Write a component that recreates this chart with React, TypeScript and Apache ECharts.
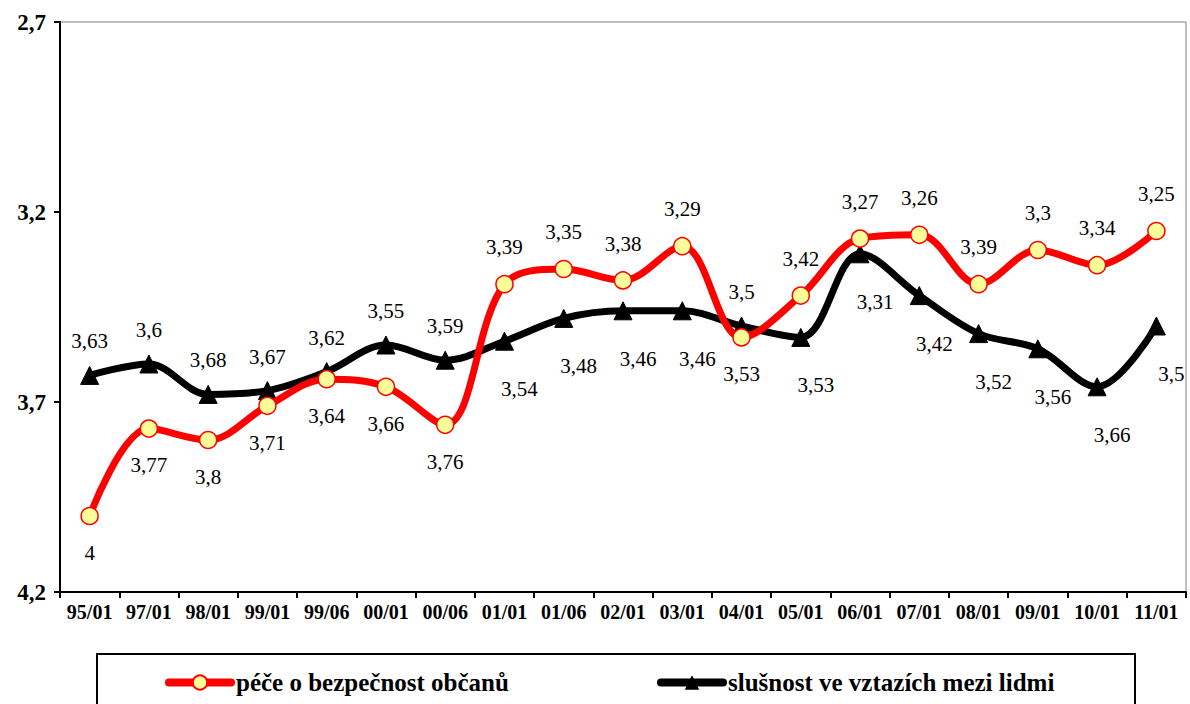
import React, { useEffect, useRef } from "react";
import * as echarts from "echarts";

const categories = ["95/01", "97/01", "98/01", "99/01", "99/06", "00/01", "00/06", "01/01", "01/06", "02/01", "03/01", "04/01", "05/01", "06/01", "07/01", "08/01", "09/01", "10/01", "11/01"];
const seriesNames = ["péče o bezpečnost občanů", "slušnost ve vztazích mezi lidmi"];
const bezpecnost = [4, 3.77, 3.8, 3.71, 3.64, 3.66, 3.76, 3.39, 3.35, 3.38, 3.29, 3.53, 3.42, 3.27, 3.26, 3.39, 3.3, 3.34, 3.25];
const slusnost = [3.63, 3.6, 3.68, 3.67, 3.62, 3.55, 3.59, 3.54, 3.48, 3.46, 3.46, 3.5, 3.53, 3.31, 3.42, 3.52, 3.56, 3.66, 3.5];
const yTicks = [2.7, 3.2, 3.7, 4.2];

const redLabelPos = ["bottom", "bottom", "bottom", "bottom", "bottom", "bottom", "bottom", "top", "top", "top", "top", "bottom", "top", "top", "top", "top", "top", "top", "top"];
const blackLabelPos = ["top", "top", "top", "top", "top", "top", "top", "bottom", "bottom", "bottom", "bottom", "top", "bottom", "bottom", "bottom", "bottom", "bottom", "bottom", "bottom"];

const FONT = "Times New Roman, Liberation Serif, DejaVu Serif, serif";
const fmt = (v: number) => String(v).replace(".", ",");

export default function App() {
  const ref = useRef<HTMLDivElement>(null);
  useEffect(() => {
    if (!ref.current) return;
    const chart = echarts.init(ref.current, null, { renderer: "svg" });
    const labelBase = { show: true, fontFamily: FONT, fontSize: 21, color: "#000", formatter: (p: any) => fmt(p.value) };
    const legendBase = {
      top: 665,
      itemWidth: 62,
      itemHeight: 18,
      itemGap: 5,
      lineStyle: { width: 8, cap: "round" },
      textStyle: { fontFamily: FONT, fontSize: 25, fontWeight: "bold", color: "#000" },
    };
    chart.setOption({
      animation: false,
      backgroundColor: "#fff",
      textStyle: { fontFamily: FONT },
      grid: { left: 60, right: 4, top: 22, bottom: 112, show: true, borderColor: "#808080", borderWidth: 1 },
      legend: [
        { ...legendBase, left: 160, data: [seriesNames[0]] },
        { ...legendBase, left: 652, data: [seriesNames[1]] },
      ],
      graphic: [
        { type: "rect", shape: { x: 97, y: 654, width: 1038, height: 70 }, style: { fill: "none", stroke: "#000", lineWidth: 2 } },
      ],
      xAxis: {
        type: "category",
        data: categories,
        boundaryGap: true,
        axisLine: { lineStyle: { color: "#000", width: 2 } },
        axisTick: { show: true, length: 6, lineStyle: { color: "#000", width: 2 } },
        axisLabel: { fontFamily: FONT, fontSize: 20, fontWeight: "bold", color: "#000", margin: 10, interval: 0 },
        splitLine: { show: false },
      },
      yAxis: {
        type: "value",
        inverse: true,
        min: yTicks[0],
        max: yTicks[yTicks.length - 1],
        interval: 0.5,
        axisLine: { show: true, lineStyle: { color: "#000", width: 2 } },
        axisTick: { show: true, length: 6, lineStyle: { color: "#000", width: 2 } },
        axisLabel: { fontFamily: FONT, fontSize: 23, fontWeight: "bold", color: "#000", margin: 14, formatter: (v: number) => fmt(Math.round(v * 10) / 10) },
        splitLine: { show: false },
      },
      series: [
        {
          name: seriesNames[0],
          type: "line",
          smooth: 0.35,
          z: 3,
          data: bezpecnost.map((v, i) => ({ value: v, label: { position: redLabelPos[i] } })),
          lineStyle: { color: "#ff0000", width: 7, cap: "round", join: "round" },
          itemStyle: { color: "#ffff99", borderColor: "#ff0000", borderWidth: 1.5 },
          symbol: "circle",
          symbolSize: 17,
          label: { ...labelBase, distance: 17 },
        },
        {
          name: seriesNames[1],
          type: "line",
          smooth: 0.35,
          z: 2,
          data: slusnost.map((v, i) => ({ value: v, label: { position: blackLabelPos[i], distance: blackLabelPos[i] === "bottom" ? 28 : 14, offset: blackLabelPos[i] === "bottom" ? [15, 0] : [0, 0] } })),
          lineStyle: { color: "#000", width: 7, cap: "round", join: "round" },
          itemStyle: { color: "#000", borderColor: "#000" },
          symbol: "triangle",
          symbolSize: 18,
          label: { ...labelBase },
        },
      ],
    });
    return () => chart.dispose();
  }, []);
  return <div ref={ref} style={{ position: "fixed", left: 0, top: 0, width: 1190, height: 704 }} />;
}
